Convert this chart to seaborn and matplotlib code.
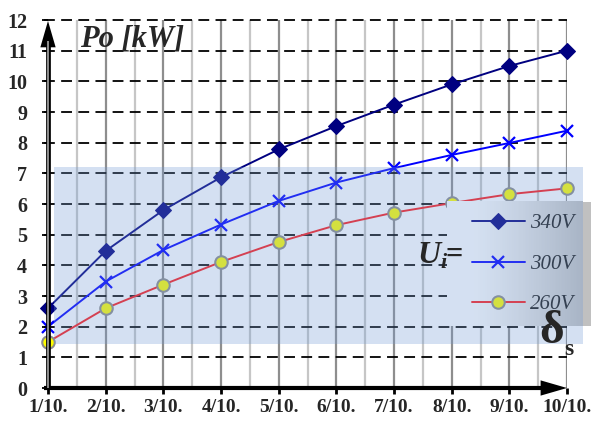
import numpy as np
import matplotlib
matplotlib.use("Agg")
import matplotlib.pyplot as plt
import seaborn as sns
from matplotlib.patches import Rectangle

# Output power Po [kW] versus duty ratio for three input voltages
ratios = ["1/10.", "2/10.", "3/10.", "4/10.", "5/10.",
          "6/10.", "7/10.", "8/10.", "9/10.", "10/10."]
power_340 = [2.6, 4.47, 5.8, 6.87, 7.78, 8.54, 9.24, 9.9, 10.5, 11.0]
power_300 = [2.0, 3.47, 4.5, 5.33, 6.1, 6.7, 7.17, 7.6, 7.99, 8.39]
power_260 = [1.5, 2.6, 3.37, 4.11, 4.76, 5.31, 5.72, 6.03, 6.32, 6.51]
series_labels = ["340V", "300V", "260V"]
y_ticks = list(range(0, 13))

sns.set_style("white")
plt.rcParams["font.family"] = ["Liberation Serif", "DejaVu Serif"]

W, H = 591, 421
fig = plt.figure(figsize=(W / 100, H / 100), dpi=100)
ax = fig.add_axes([48 / W, 33 / H, 519 / W, 368 / H])
for s in ax.spines.values():
    s.set_visible(False)

pos = np.arange(len(ratios))

# vertical grid: major at each ratio, lighter minor halfway between
ax.vlines(pos[1:], 0, 12, color="#8e8e8e", lw=1.6, zorder=1)
ax.vlines(pos[:-1] + 0.5, 0, 12, color="#c6c6c6", lw=1.6, zorder=1)
# horizontal dashed grid
ax.hlines(y_ticks[1:], -0.07, 9, colors="black", lw=1.3,
          linestyles=(0, (6, 3.5)), zorder=1.2, clip_on=False)

# series
sns.lineplot(x=pos, y=power_340, ax=ax, color="#000080", lw=1.4,
             marker="D", markersize=8, markerfacecolor="#000080",
             markeredgecolor="#000080", zorder=3)
h340 = ax.lines[-1]
sns.lineplot(x=pos, y=power_300, ax=ax, color="#0000ff", lw=1.4,
             marker="x", markersize=9, markeredgewidth=1.6,
             markeredgecolor="#0000ff", zorder=3)
h300 = ax.lines[-1]
sns.lineplot(x=pos, y=power_260, ax=ax, color="#ff1a1a", lw=1.4,
             marker="o", markersize=9, markerfacecolor="#ffff00",
             markeredgecolor="#8c8c8c", markeredgewidth=1.5, zorder=3)
h260 = ax.lines[-1]
for ln in (h340, h300, h260):
    ln.set_clip_on(False)

# legend panel: white to grey gradient
grad = np.clip((np.linspace(0, 1, 256) - 0.2) / 0.8, 0, 1) ** 1.2
c0 = np.array([1.0, 1.0, 1.0])
c1 = np.array([192, 192, 192]) / 255
img = (c0[None, :] * (1 - grad[:, None]) + c1[None, :] * grad[:, None])[None, :, :]
ax.imshow(img, extent=[6.92, 9.277, 2.02, 6.065], aspect="auto",
          zorder=4, clip_on=False, interpolation="bilinear")
ax.add_patch(Rectangle((9.277, 2.02), 9.416 - 9.277, 6.065 - 2.02,
                       facecolor="#c0c0c0", lw=0, zorder=4, clip_on=False))

leg = ax.legend(handles=[h340, h300, h260], labels=series_labels,
                loc="center left", bbox_to_anchor=(7.35, 4.04),
                bbox_transform=ax.transData, frameon=False, borderpad=0,
                borderaxespad=0, handlelength=2.55, handletextpad=0.25,
                labelspacing=1.0, labelcolor="#1a1a1a",
                prop=dict(family="Liberation Serif", style="italic", size=15))
leg.set_zorder(4.2)

# translucent blue band laid over the curves and legend
ax.add_patch(Rectangle((0.104, 1.43), 9.277 - 0.104, 7.2 - 1.43,
                       facecolor=(115 / 255, 155 / 255, 212 / 255), alpha=0.3,
                       lw=0, zorder=4.5, clip_on=False))

# axes with arrows
ax.plot([0, 0], [0, 11.3], color="black", lw=3.4, solid_capstyle="butt",
        zorder=6, clip_on=False)
ax.plot([0, 0], [0, 11.3], color="#a8a8a8", lw=1.2, solid_capstyle="butt",
        zorder=6.1, clip_on=False)
ax.annotate("", xy=(0, 11.97), xytext=(0, 11.1),
            arrowprops=dict(arrowstyle="-|>,head_length=1.9,head_width=0.55",
                            color="black", lw=0, mutation_scale=10,
                            shrinkA=0, shrinkB=0), zorder=6, annotation_clip=False)
ax.plot([-0.07, 8.6], [0, 0], color="black", lw=3.0, solid_capstyle="butt",
        zorder=6, clip_on=False)
ax.annotate("", xy=(9.0, 0), xytext=(8.5, 0),
            arrowprops=dict(arrowstyle="-|>,head_length=1.9,head_width=0.55",
                            color="black", lw=0, mutation_scale=10,
                            shrinkA=0, shrinkB=0), zorder=6, annotation_clip=False)

ax.set_xlim(0, 9)
ax.set_ylim(0, 12)
ax.set_xticks(pos, ratios)
ax.set_yticks(y_ticks, [str(v) for v in y_ticks])
ax.tick_params(axis="x", direction="out", length=4, width=2, pad=4,
               labelsize=14, color="black", bottom=True)
ax.tick_params(axis="y", direction="out", length=4, width=1.3, pad=11,
               labelsize=14.5, color="black", left=True)
for lbl in ax.get_xticklabels() + ax.get_yticklabels():
    lbl.set_fontweight("bold")
ax.set_xlabel("")
ax.set_ylabel("")

# axis titles and annotations
ax.text(0.555, 11.12, "Po [kW]", ha="left", va="baseline", fontsize=22,
        fontweight="bold", fontstyle="italic", zorder=7)
ax.text(6.40, 4.076, "U", ha="left", va="baseline", fontsize=23,
        fontweight="bold", fontstyle="italic", zorder=7)
ax.text(6.80, 3.91, "i", ha="left", va="baseline", fontsize=16,
        fontweight="bold", fontstyle="italic", zorder=7)
ax.text(6.90, 4.08, "=", ha="left", va="baseline", fontsize=22,
        fontweight="bold", zorder=7)
ax.text(8.52, 1.467, "δ", ha="left", va="baseline", fontsize=34,
        fontweight="bold", zorder=7, clip_on=False)
ax.text(8.95, 1.076, "s", ha="left", va="baseline", fontsize=17,
        fontweight="bold", zorder=7, clip_on=False)

fig.savefig("out.png", dpi=100)
